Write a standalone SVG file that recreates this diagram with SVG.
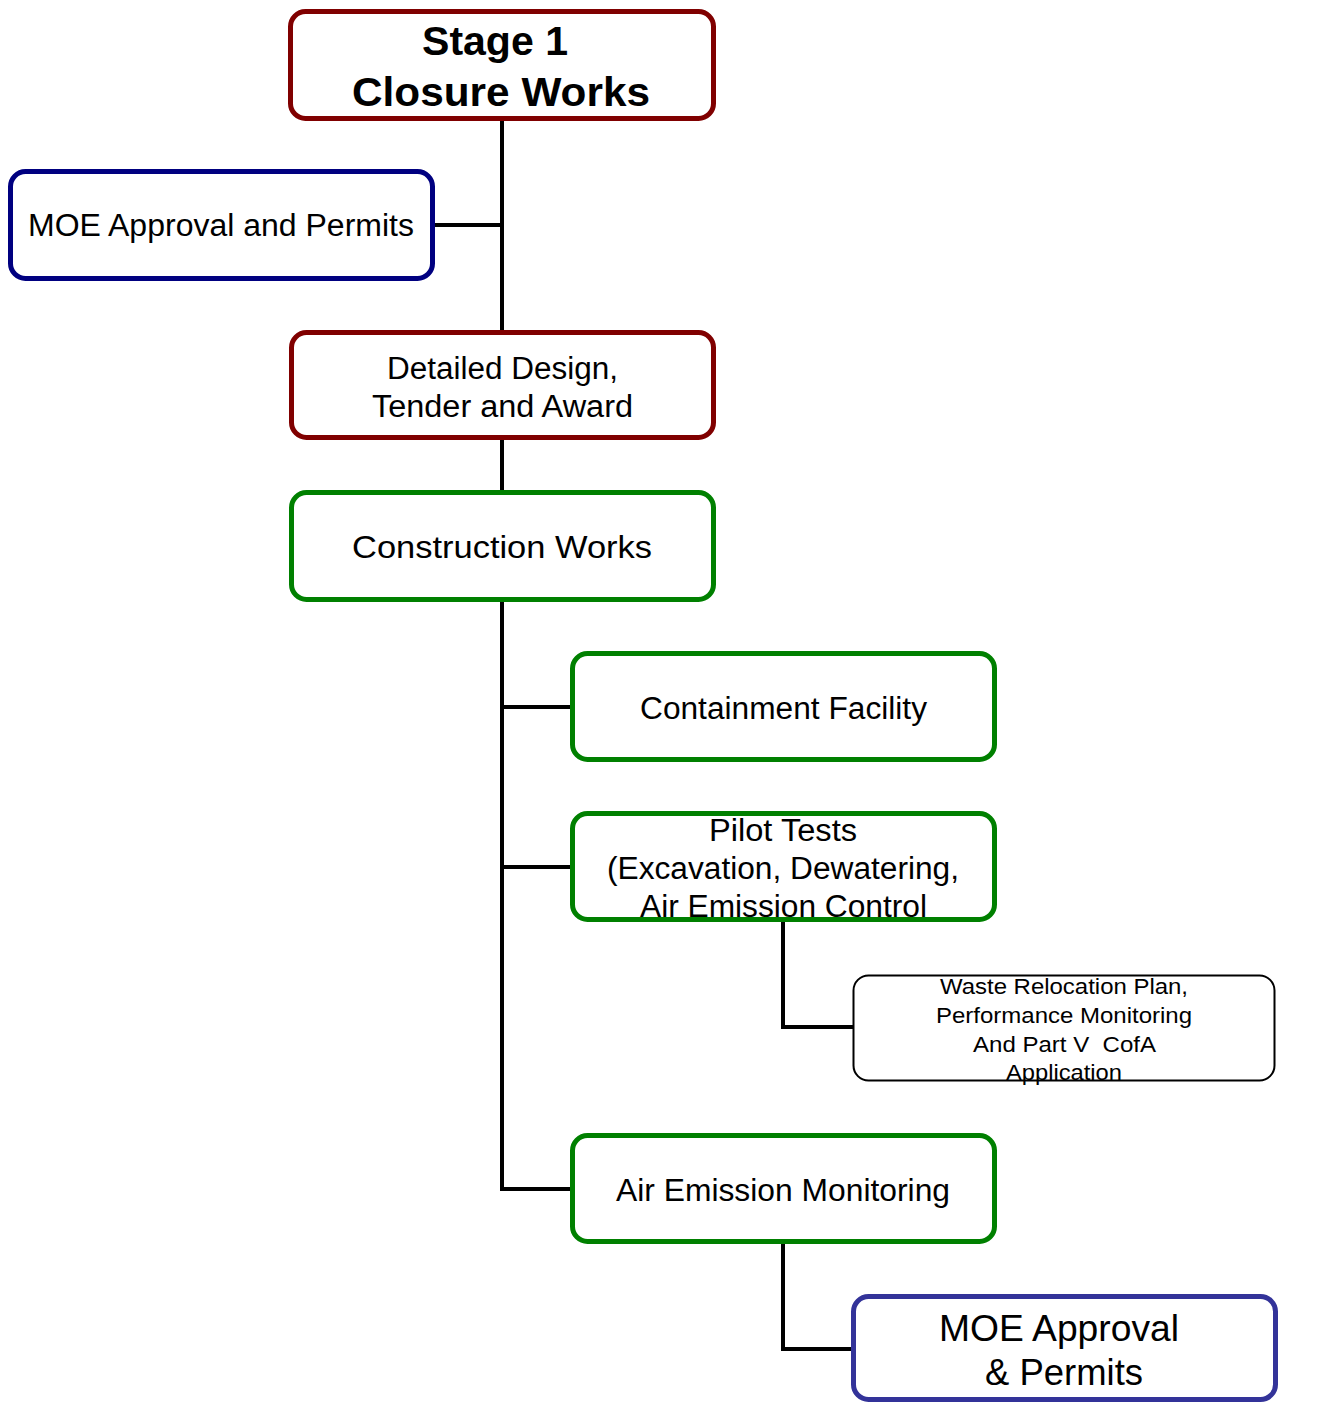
<svg xmlns="http://www.w3.org/2000/svg" width="1325" height="1403" viewBox="0 0 1325 1403">
<style>
text{font-family:"Liberation Sans",Arial,sans-serif;fill:#000;text-anchor:middle;font-size:31px}
.b{font-weight:bold;font-size:41px}
.s{font-size:22px}
.l{font-size:37px}
.box{fill:#fff;stroke-width:5}
.red{stroke:#800000}
.navy{stroke:#000080}
.green{stroke:#008000}
.blk{stroke:#000;stroke-width:2}
.ind{stroke:#333399}
.c{fill:none;stroke:#000;stroke-width:4}
</style>
<rect width="1325" height="1403" fill="#fff"/>
<g id="connectors">
<path class="c" d="M502 119V330M433 225H502M502 438V492M502 600V1189H572M502 707H572M502 867H572M783 920V1027H853M783 1242V1349H853"/>
</g>
<g id="stage1">
<rect class="box red" x="290.5" y="11.5" width="423" height="107" rx="15"/>
<text class="b" x="495" y="55" textLength="146" lengthAdjust="spacingAndGlyphs">Stage 1</text>
<text class="b" x="501" y="106" textLength="298" lengthAdjust="spacingAndGlyphs">Closure Works</text>
</g>
<g id="moe1">
<rect class="box navy" x="10.5" y="171.5" width="422" height="107" rx="15"/>
<text x="221" y="236" textLength="386" lengthAdjust="spacingAndGlyphs">MOE Approval and Permits</text>
</g>
<g id="design">
<rect class="box red" x="291.5" y="332.5" width="422" height="105" rx="15"/>
<text x="502.5" y="379" textLength="231" lengthAdjust="spacingAndGlyphs">Detailed Design,</text>
<text x="502.5" y="417" textLength="261" lengthAdjust="spacingAndGlyphs">Tender and Award</text>
</g>
<g id="construction">
<rect class="box green" x="291.5" y="492.5" width="422" height="107" rx="15"/>
<text x="502" y="558" textLength="300" lengthAdjust="spacingAndGlyphs">Construction Works</text>
</g>
<g id="containment">
<rect class="box green" x="572.5" y="653.5" width="422" height="106" rx="15"/>
<text x="783.5" y="719" textLength="287" lengthAdjust="spacingAndGlyphs">Containment Facility</text>
</g>
<g id="pilot">
<rect class="box green" x="572.5" y="813.5" width="422" height="106" rx="15"/>
<text x="783" y="841" textLength="148" lengthAdjust="spacingAndGlyphs">Pilot Tests</text>
<text x="783" y="879" textLength="352" lengthAdjust="spacingAndGlyphs">(Excavation, Dewatering,</text>
<text x="783.5" y="917" textLength="287" lengthAdjust="spacingAndGlyphs">Air Emission Control</text>
</g>
<g id="waste">
<rect class="box blk" x="853.5" y="975.5" width="421" height="105" rx="15"/>
<text class="s" x="1064" y="994" textLength="248" lengthAdjust="spacingAndGlyphs">Waste Relocation Plan,</text>
<text class="s" x="1064" y="1023" textLength="256" lengthAdjust="spacingAndGlyphs">Performance Monitoring</text>
<text class="s" x="1064.5" y="1052" textLength="183" lengthAdjust="spacingAndGlyphs" xml:space="preserve">And Part V  CofA</text>
<text class="s" x="1064" y="1080" textLength="116" lengthAdjust="spacingAndGlyphs">Application</text>
</g>
<g id="air">
<rect class="box green" x="572.5" y="1135.5" width="422" height="106" rx="15"/>
<text x="783" y="1201" textLength="334" lengthAdjust="spacingAndGlyphs">Air Emission Monitoring</text>
</g>
<g id="moe2">
<rect class="box ind" x="853.5" y="1296.5" width="422" height="103" rx="15"/>
<text class="l" x="1059" y="1341" textLength="240" lengthAdjust="spacingAndGlyphs">MOE Approval</text>
<text class="l" x="1064" y="1385" textLength="158" lengthAdjust="spacingAndGlyphs">&amp; Permits</text>
</g>
</svg>
